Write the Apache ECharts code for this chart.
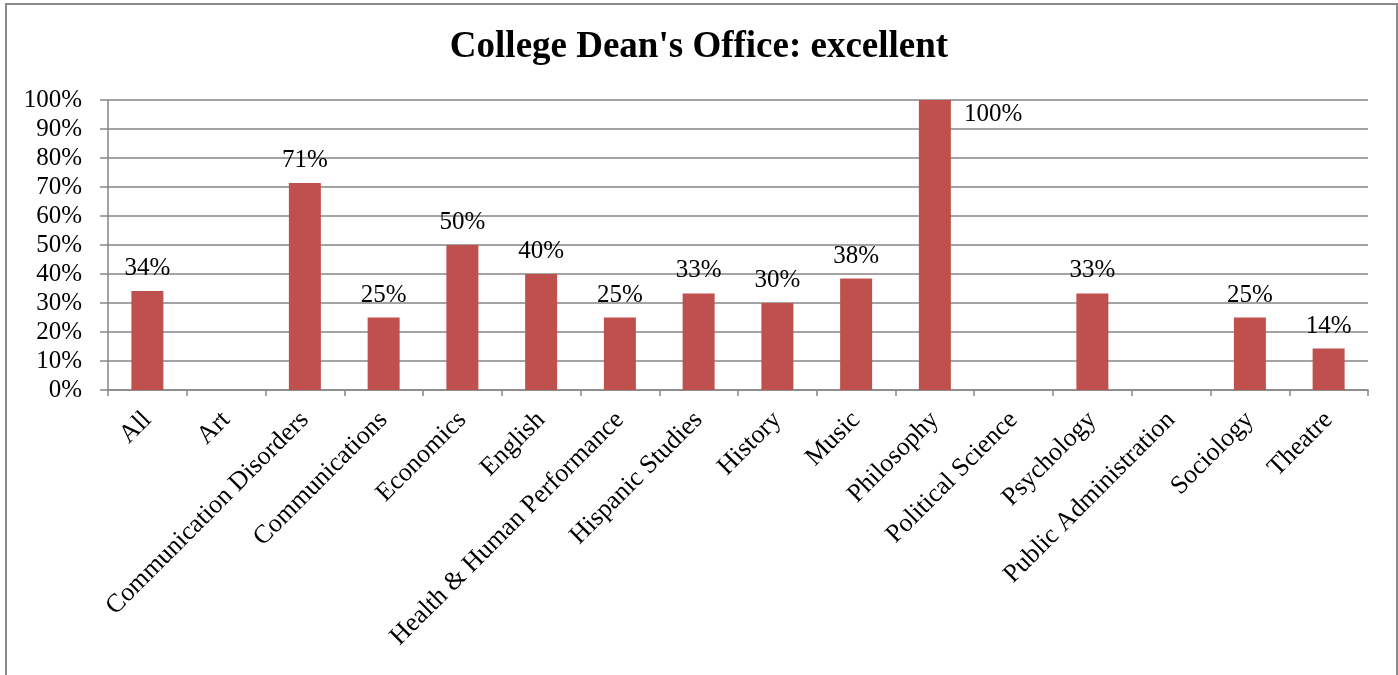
<!DOCTYPE html>
<html>
<head>
<meta charset="utf-8">
<script src="https://cdn.jsdelivr.net/npm/echarts@6/dist/echarts.min.js"></script>
<style>
html,body{margin:0;padding:0;background:#fff;}
#chart{width:1398px;height:675px;}
</style>
</head>
<body>
<div id="chart"></div>
<script>
const titleText = "College Dean's Office: excellent";
const categories = ["All","Art","Communication Disorders","Communications","Economics","English","Health & Human Performance","Hispanic Studies","History","Music","Philosophy","Political Science","Psychology","Public Administration","Sociology","Theatre"];
const values = [34.1, null, 71.4, 25, 50, 40, 25, 33.3, 30, 38.46, 100, null, 33.3, null, 25, 14.3];
const yTicks = [0,10,20,30,40,50,60,70,80,90,100];

const FONT = '"Liberation Serif","Times New Roman",serif';
const chart = echarts.init(document.getElementById('chart'), null, {renderer:'canvas'});

const seriesData = values.map(function(v){
  if (v === null) return {value: null};
  if (v >= 100) {
    return {value: v, label: {position: [45, 2]}};
  }
  return {value: v};
});

chart.setOption({
  animation: false,
  backgroundColor: '#ffffff',
  title: {
    text: titleText,
    left: 'center',
    top: 24,
    textStyle: {fontFamily: FONT, fontSize: 37, fontWeight: 'bold', color: '#000'}
  },
  graphic: [{
    type: 'rect',
    shape: {x: 6, y: 4, width: 1391, height: 720},
    style: {fill: 'none', stroke: '#898989', lineWidth: 2},
    silent: true
  }],
  grid: {left: 108, right: 30, top: 100, bottom: 285, containLabel: false},
  xAxis: {
    type: 'category',
    data: categories,
    boundaryGap: true,
    axisLine: {show: true, lineStyle: {color: '#868686', width: 1.5}},
    axisTick: {show: true, alignWithLabel: false, length: 6, lineStyle: {color: '#868686', width: 1.5}},
    axisLabel: {
      interval: 0,
      rotate: 45,
      margin: 26,
      fontFamily: FONT,
      fontSize: 26,
      color: '#000'
    },
    splitLine: {show: false}
  },
  yAxis: {
    type: 'value',
    min: 0,
    max: 100,
    interval: 10,
    axisLine: {show: true, lineStyle: {color: '#868686', width: 1.5}},
    axisTick: {show: true, length: 8, lineStyle: {color: '#868686', width: 1.5}},
    axisLabel: {
      margin: 26,
      fontFamily: FONT,
      fontSize: 25,
      color: '#000',
      formatter: function(v){ return yTicks.indexOf(v) >= 0 ? v + '%' : ''; }
    },
    splitLine: {show: true, lineStyle: {color: '#868686', width: 1.5}}
  },
  series: [{
    type: 'bar',
    data: seriesData,
    barWidth: 32,
    itemStyle: {color: '#C0504D'},
    label: {
      show: true,
      position: 'top',
      distance: 10,
      fontFamily: FONT,
      fontSize: 25,
      color: '#000',
      formatter: function(p){ return p.value == null ? '' : Math.round(p.value) + '%'; }
    }
  }]
});
</script>
</body>
</html>
